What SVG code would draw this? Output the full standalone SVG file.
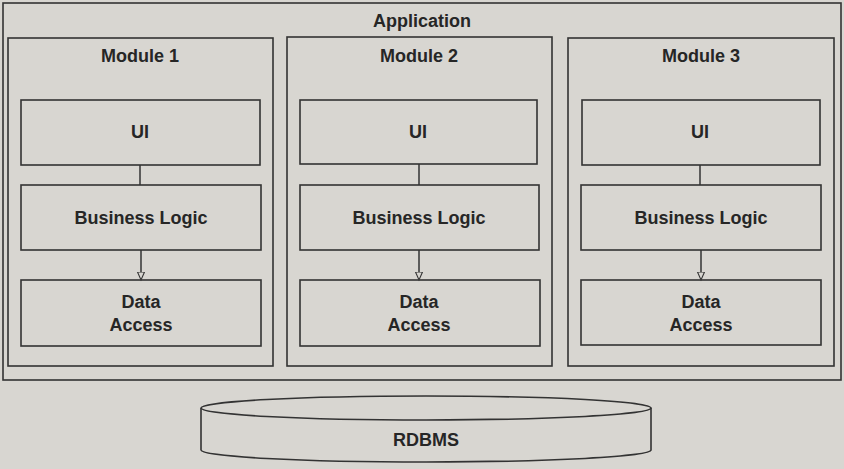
<svg xmlns="http://www.w3.org/2000/svg" width="844" height="469" viewBox="0 0 844 469">
<defs>
<marker id="arr" markerWidth="10" markerHeight="10" refX="8" refY="4" orient="auto" markerUnits="userSpaceOnUse">
<path d="M0,0.5 L8,4 L0,7.5 Z" fill="#d8d6d1" stroke="#333" stroke-width="1.1"/>
</marker>
</defs>
<style>
.box{fill:none;stroke:#333;stroke-width:1.6}
.txt{font-family:"Liberation Sans",Arial,sans-serif;font-weight:bold;font-size:18px;fill:#262626;text-anchor:middle}
.con{fill:none;stroke:#333;stroke-width:1.5}
</style>
<rect width="844" height="469" fill="#d8d6d1"/>
<g id="application">
<rect class="box" x="3" y="3" width="838" height="377"/>
<text class="txt" x="422" y="27">Application</text>
</g>
<g id="module1">
<rect class="box" x="8" y="38" width="265" height="328"/>
<text class="txt" x="140" y="62">Module 1</text>
</g>
<g id="ui1"><rect class="box" x="21" y="100" width="239" height="65"/><text class="txt" x="140" y="138">UI</text></g>
<g id="bl1"><rect class="box" x="21" y="185" width="240" height="65"/><text class="txt" x="141" y="224">Business Logic</text></g>
<g id="da1"><rect class="box" x="21" y="280" width="240" height="66"/><text class="txt" x="141" y="308">Data</text><text class="txt" x="141" y="331">Access</text></g>
<g id="module2">
<rect class="box" x="287" y="37" width="265" height="329"/>
<text class="txt" x="419" y="62">Module 2</text>
</g>
<g id="ui2"><rect class="box" x="300" y="100" width="237" height="64"/><text class="txt" x="418" y="138">UI</text></g>
<g id="bl2"><rect class="box" x="300" y="185" width="239" height="65"/><text class="txt" x="419" y="224">Business Logic</text></g>
<g id="da2"><rect class="box" x="300" y="280" width="240" height="66"/><text class="txt" x="419" y="308">Data</text><text class="txt" x="419" y="331">Access</text></g>
<g id="module3">
<rect class="box" x="568" y="38" width="266" height="328"/>
<text class="txt" x="701" y="62">Module 3</text>
</g>
<g id="ui3"><rect class="box" x="582" y="100" width="238" height="65"/><text class="txt" x="700" y="138">UI</text></g>
<g id="bl3"><rect class="box" x="581" y="185" width="240" height="65"/><text class="txt" x="701" y="224">Business Logic</text></g>
<g id="da3"><rect class="box" x="581" y="280" width="240" height="65"/><text class="txt" x="701" y="308">Data</text><text class="txt" x="701" y="331">Access</text></g>
<g id="rdbms">
<path class="box" d="M201,408 L201,450 A225,12 0 0 0 651,450 L651,408"/>
<ellipse class="box" cx="426" cy="408" rx="225" ry="12"/>
<text class="txt" x="426" y="446">RDBMS</text>
</g>
<g id="connectors">
<line class="con" x1="140" y1="165" x2="140" y2="185"/>
<line class="con" x1="141" y1="250" x2="141" y2="280" marker-end="url(#arr)"/>
<line class="con" x1="419" y1="164" x2="419" y2="185"/>
<line class="con" x1="419" y1="250" x2="419" y2="280" marker-end="url(#arr)"/>
<line class="con" x1="700" y1="165" x2="700" y2="185"/>
<line class="con" x1="701" y1="250" x2="701" y2="280" marker-end="url(#arr)"/>
</g>
</svg>
